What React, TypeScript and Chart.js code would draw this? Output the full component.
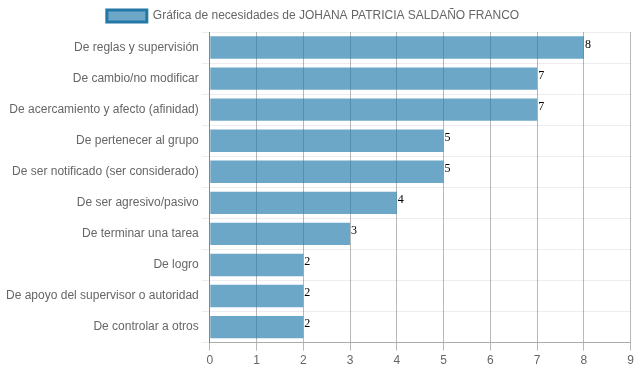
import React, { useEffect, useRef } from "react";
import { Chart, registerables } from "chart.js";

Chart.register(...registerables);

const categories = [
  "De reglas y supervisión",
  "De cambio/no modificar",
  "De acercamiento y afecto (afinidad)",
  "De pertenecer al grupo",
  "De ser notificado (ser considerado)",
  "De ser agresivo/pasivo",
  "De terminar una tarea",
  "De logro",
  "De apoyo del supervisor o autoridad",
  "De controlar a otros",
];
const values = [8, 7, 7, 5, 5, 4, 3, 2, 2, 2];
const seriesLabel = "Gráfica de necesidades de JOHANA PATRICIA SALDAÑO FRANCO";

const valueLabels = {
  id: "valueLabels",
  afterLayout(chart: any) {
    if (chart.legend) {
      chart.legend.left -= 7;
      chart.legend.right -= 7;
    }
  },
  afterDatasetsDraw(chart: any) {
    const ctx = chart.ctx;
    const meta = chart.getDatasetMeta(0);
    ctx.save();
    ctx.font = "12px 'Liberation Serif', 'DejaVu Serif', serif";
    ctx.fillStyle = "#000";
    ctx.textAlign = "left";
    ctx.textBaseline = "middle";
    meta.data.forEach((bar: any, i: number) => {
      ctx.fillText(String(values[i]), bar.x + 1, bar.y - 3);
    });
    ctx.restore();
  },
};

export default function App() {
  const ref = useRef<HTMLCanvasElement>(null);
  useEffect(() => {
    document.body.style.margin = "0";
    if (!ref.current) return;
    const chart = new Chart(ref.current, {
      type: "bar",
      data: {
        labels: categories,
        datasets: [
          {
            label: seriesLabel,
            data: values,
            backgroundColor: "rgba(30,120,170,0.65)",
            borderColor: "rgba(35,120,165,1)",
            borderWidth: 0,
          },
        ],
      },
      options: {
        indexAxis: "y",
        animation: false,
        responsive: true,
        maintainAspectRatio: false,
        layout: { padding: { top: 0, right: 0, left: 0, bottom: 0 } },
        plugins: {
          legend: {
            position: "top",
            labels: {
              boxWidth: 40,
              boxHeight: 12,
              color: "#666",
              padding: 8,
              font: { family: "'Liberation Sans', Arial, sans-serif", size: 12 },
              generateLabels: () => [
                {
                  text: seriesLabel,
                  fillStyle: "rgba(30,120,170,0.65)",
                  strokeStyle: "rgba(35,120,165,1)",
                  lineWidth: 3,
                  hidden: false,
                  datasetIndex: 0,
                  fontColor: "#666",
                },
              ],
            },
          },
          tooltip: { enabled: false },
        },
        scales: {
          x: {
            min: 0,
            max: 9,
            ticks: {
              stepSize: 1,
              color: "#666",
              font: { family: "'Liberation Sans', Arial, sans-serif", size: 12 },
            },
            grid: { color: "rgba(0,0,0,0.28)" },
            border: { color: "rgba(0,0,0,0.28)" },
          },
          y: {
            ticks: {
              color: "#666",
              font: { family: "'Liberation Sans', Arial, sans-serif", size: 12 },
            },
            grid: { color: "rgba(0,0,0,0.07)" },
            border: { color: "rgba(0,0,0,0.28)" },
          },
        },
      },
      plugins: [valueLabels],
    });
    return () => chart.destroy();
  }, []);
  return (
    <div style={{ paddingLeft: 3, paddingTop: 2, width: 634, height: 369 }}>
      <div style={{ position: "relative", width: 634, height: 369 }}>
        <canvas ref={ref} />
      </div>
    </div>
  );
}
